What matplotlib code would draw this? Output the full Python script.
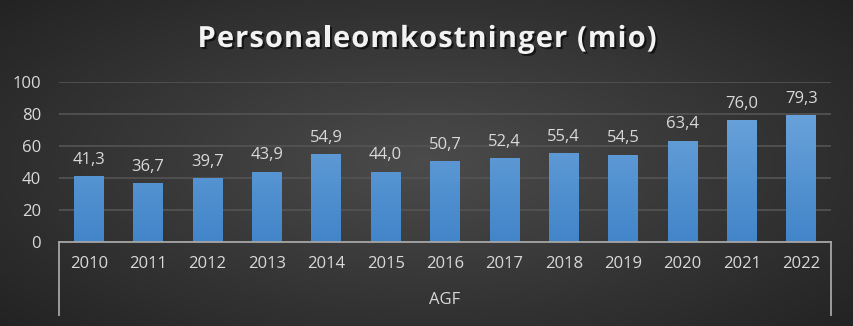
import numpy as np
import matplotlib.pyplot as plt
import matplotlib.patheffects as pe
from matplotlib.colors import LinearSegmentedColormap

# data
years = ["2010", "2011", "2012", "2013", "2014", "2015", "2016",
         "2017", "2018", "2019", "2020", "2021", "2022"]
values = [41.3, 36.7, 39.7, 43.9, 54.9, 44.0, 50.7,
          52.4, 55.4, 54.5, 63.4, 76.0, 79.3]
group_label = "AGF"
title = "Personaleomkostninger (mio)"
y_ticks = [0, 20, 40, 60, 80, 100]

plt.rcParams['font.family'] = ['Open Sans', 'DejaVu Sans']

fig = plt.figure(figsize=(8.54, 3.26), dpi=100)

# radial background
bg = fig.add_axes([0, 0, 1, 1], zorder=-10)
gx, gy = np.meshgrid(np.linspace(-1, 1, 400), np.linspace(-1, 1, 160))
r = np.sqrt(gx ** 2 + (gy * 0.9) ** 2)
bg_cmap = LinearSegmentedColormap.from_list("bg", ["#4b4b4b", "#232323"])
bg.imshow(r, cmap=bg_cmap, aspect="auto", extent=[0, 1, 0, 1], vmin=0, vmax=1.35)
bg.axis("off")

ax = fig.add_axes([0.0691, 0.2577, 0.904, 0.4908])
ax.patch.set_alpha(0)

x = np.arange(len(years))
bars = ax.bar(x, values, width=0.5, color="none", zorder=3)

# gradient fill for each bar
bar_cmap = LinearSegmentedColormap.from_list("bar", ["#4285c9", "#72a9de"])
grad = np.linspace(0, 1, 100).reshape(-1, 1)
for b in bars:
    im = ax.imshow(grad, cmap=bar_cmap, aspect="auto", origin="lower",
                   extent=[b.get_x(), b.get_x() + b.get_width(), 0, 100],
                   zorder=3)
    im.set_clip_path(b)
    ax.annotate(f"{b.get_height():.1f}".replace(".", ","),
                (b.get_x() + b.get_width() / 2, b.get_height()),
                xytext=(0, 6), textcoords="offset points",
                ha="center", va="bottom", color="#d9d9d9", fontsize=12)

ax.set_xlim(-0.5, len(years) - 0.5)
ax.set_ylim(0, 100)
ax.set_yticks(y_ticks)
ax.set_xticks(x)
ax.set_xticklabels(years)
ax.tick_params(axis="both", length=0, colors="#d9d9d9", labelsize=12)
ax.tick_params(axis="y", pad=13)
ax.tick_params(axis="x", pad=10)
for s in ax.spines.values():
    s.set_visible(False)
ax.grid(axis="y", color="#545454", linewidth=1.2, zorder=0)
ax.set_axisbelow(True)

# axis line and group bracket
ax.plot([0, 1], [0, 0], transform=ax.transAxes, color="#a6a6a6",
        linewidth=1.3, clip_on=False, zorder=4)
for xe in (0, 1):
    ax.plot([xe, xe], [0, -0.455], transform=ax.transAxes, color="#a6a6a6",
            linewidth=1.3, clip_on=False)
ax.text(0.5, -0.36, group_label, transform=ax.transAxes, ha="center",
        va="center", color="#d9d9d9", fontsize=12)

# title with letter spacing, laid out char by char
renderer = fig.canvas.get_renderer()
title_kw = dict(color="#f2f2f2", fontsize=21, fontweight="bold", va="baseline",
                path_effects=[pe.withSimplePatchShadow(offset=(1.5, -1.5),
                                                       shadow_rgbFace="black",
                                                       alpha=0.6)])


def char_width(c):
    t = fig.text(0, 0, "i" + c + "i", **title_kw)
    w = t.get_window_extent(renderer).width
    t.remove()
    t = fig.text(0, 0, "ii", **title_kw)
    w -= t.get_window_extent(renderer).width
    t.remove()
    return w


widths = [char_width(c) for c in title]
target = 459.0
tracking = (target - sum(widths)) / (len(title) - 1)
xpos = 427 - target / 2
base_y = 47
for c, w in zip(title, widths):
    if c != " ":
        fig.text(xpos / 854, 1 - base_y / 326, c, ha="left", **title_kw)
    xpos += w + tracking

fig.savefig("out.png", dpi=100)
